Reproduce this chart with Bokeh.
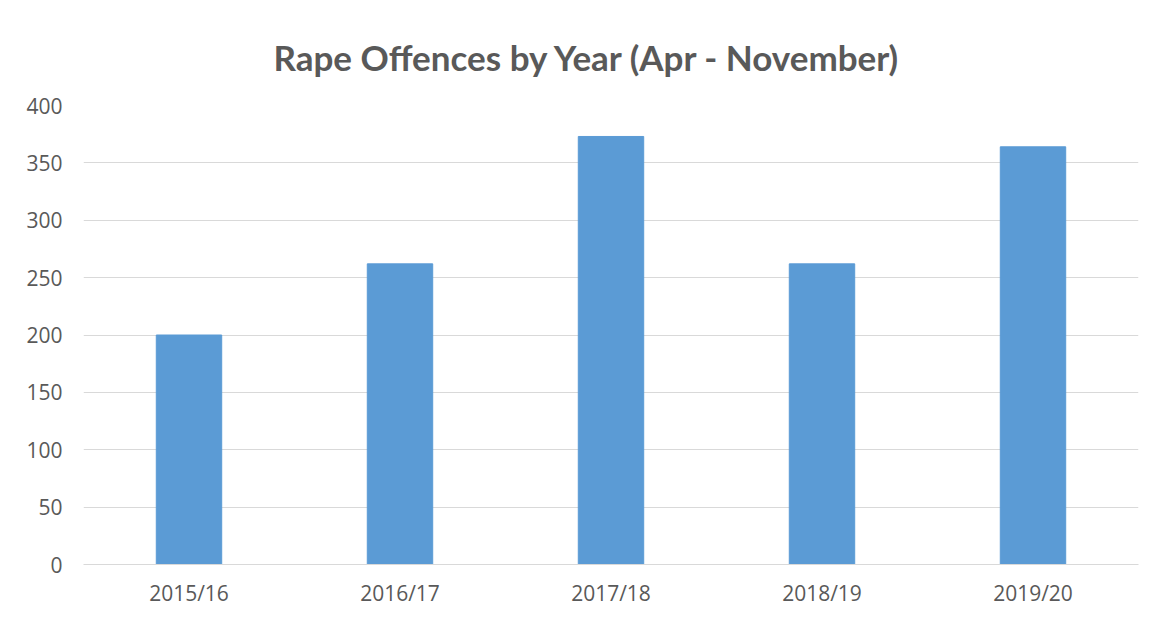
from bokeh.plotting import figure
from bokeh.models import Title, FactorRange, Range1d, ColumnDataSource
from bokeh.embed import file_html
from bokeh.resources import INLINE

years = ["2015/16", "2016/17", "2017/18", "2018/19", "2019/20"]
offences = [200, 262, 373, 262, 364]
y_ticks = [0, 50, 100, 150, 200, 250, 300, 350, 400]

source = ColumnDataSource(data=dict(year=years, offences=offences))

p = figure(
    width=1144, height=613,
    x_range=FactorRange(*years, range_padding=0),
    y_range=Range1d(0, 400),
    output_backend="svg", toolbar_location=None,
    min_border_left=83, min_border_right=6, min_border_top=105, min_border_bottom=49,
)
p.title = None
t = Title(text="Rape Offences by Year (Apr - November)", align="left",
          text_font="Lato", text_font_size="35px",
          text_font_style="bold", text_color="#595959", standoff=56, offset=190)
p.add_layout(t, "above")

p.vbar(x="year", top="offences", width=0.31, source=source,
       fill_color="#5B9BD5", line_color="#5B9BD5")

p.outline_line_color = None
p.background_fill_color = "white"
p.border_fill_color = "white"

p.yaxis.ticker = y_ticks
p.yaxis.axis_line_color = None
p.yaxis.major_tick_line_color = None
p.yaxis.minor_tick_line_color = None
p.yaxis.major_tick_out = 0
p.yaxis.major_tick_in = 0
p.yaxis.major_label_text_font = "Open Sans"
p.yaxis.major_label_text_font_size = "21px"
p.yaxis.major_label_text_color = "#595959"
p.yaxis.major_label_standoff = 21

p.xaxis.axis_line_color = "#d9d9d9"
p.xaxis.major_tick_line_color = None
p.xaxis.minor_tick_line_color = None
p.xaxis.major_tick_out = 0
p.xaxis.major_tick_in = 0
p.xaxis.major_label_text_font = "Open Sans"
p.xaxis.major_label_text_font_size = "21px"
p.xaxis.major_label_text_color = "#595959"
p.xaxis.major_label_standoff = 14

p.xgrid.grid_line_color = None
p.ygrid.grid_line_color = "#d9d9d9"
p.ygrid.grid_line_width = 1

open("out.html", "w").write(file_html(p, INLINE))
